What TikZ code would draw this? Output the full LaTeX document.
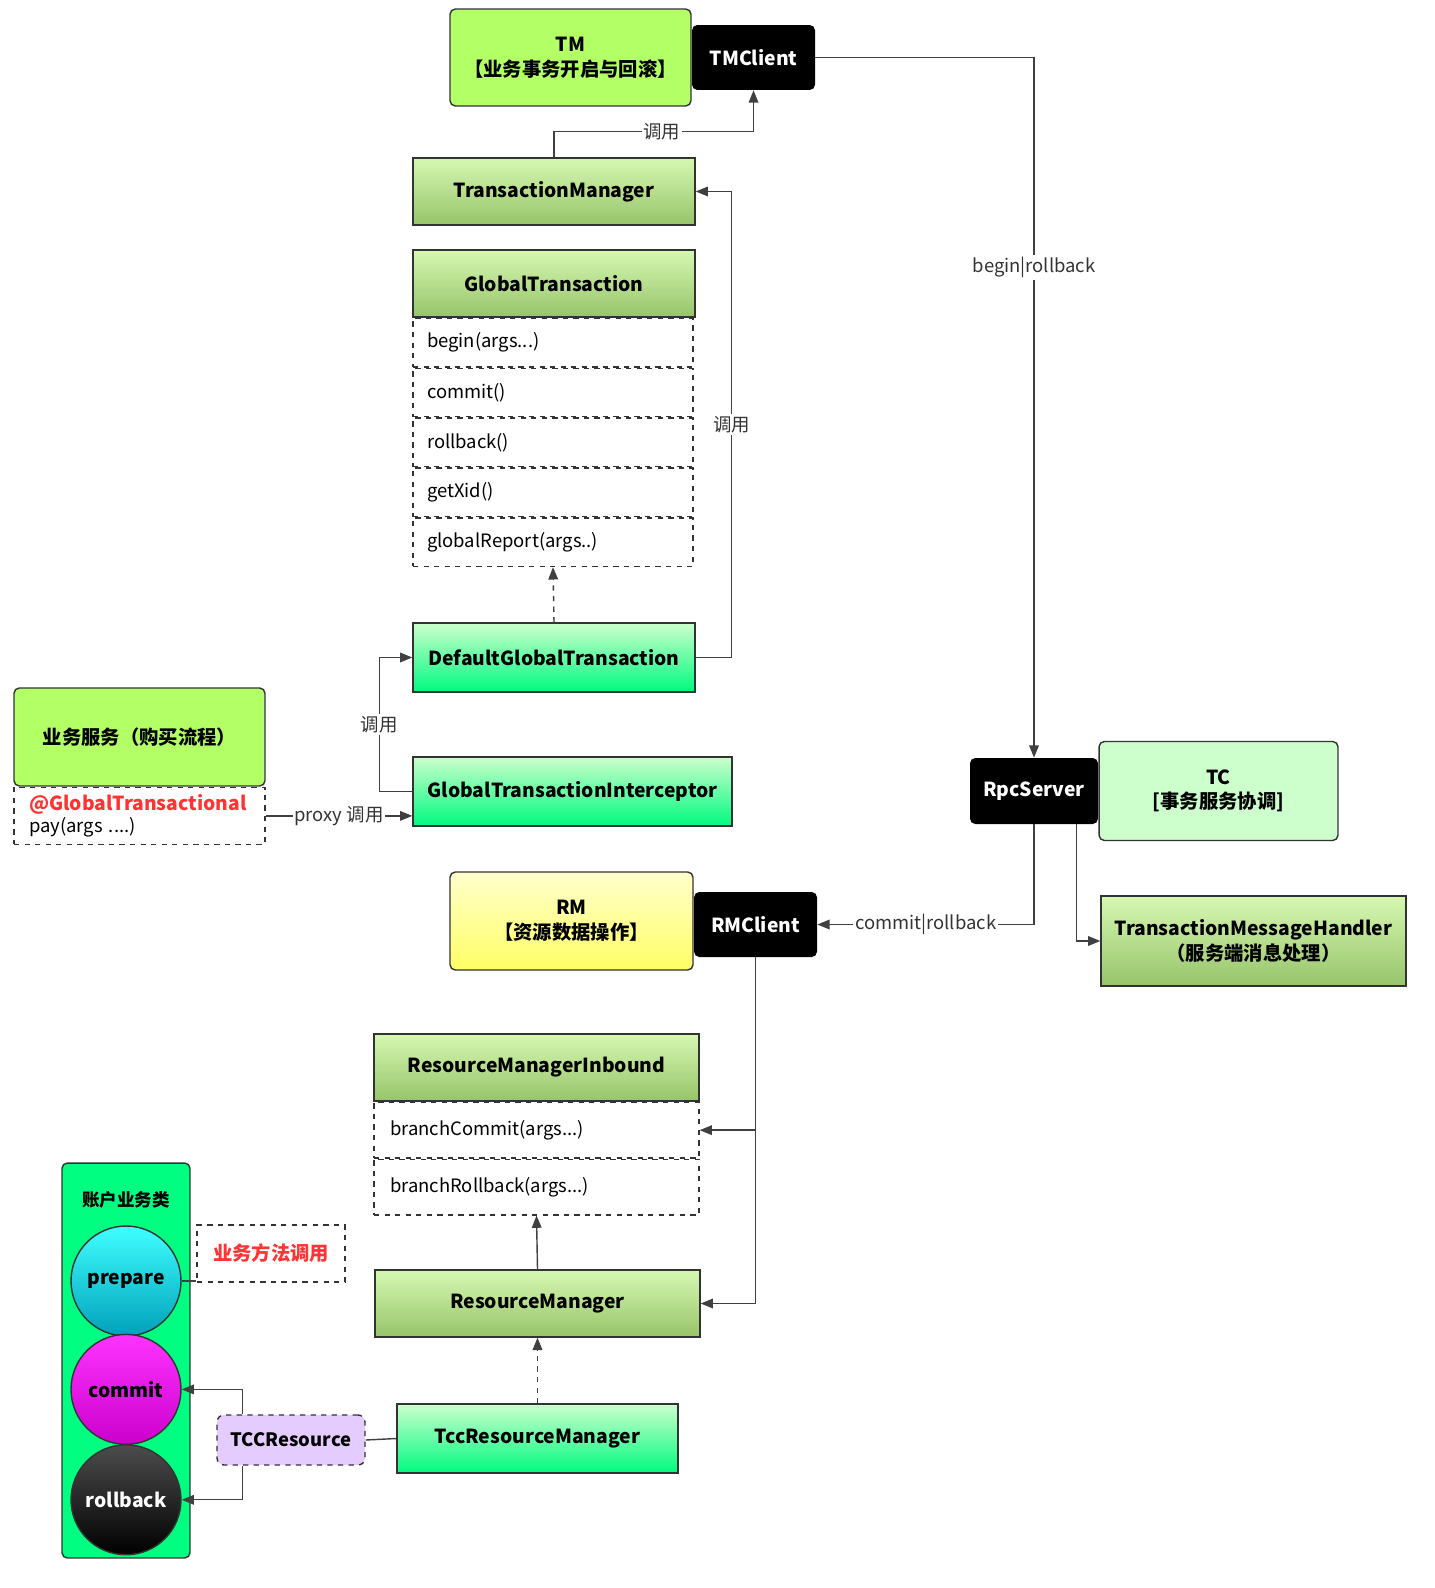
\documentclass[tikz,border=0pt]{standalone}
\usepackage{fontspec}
\setmainfont{Noto Sans CJK SC}
\usetikzlibrary{arrows.meta,positioning}
\definecolor{limefill}{HTML}{B3FF66}
\definecolor{tcfill}{HTML}{CCFFCC}
\definecolor{olivetop}{HTML}{D6F8B2}
\definecolor{olivebot}{HTML}{97C46A}
\definecolor{freshtop}{HTML}{CCFFCC}
\definecolor{freshbot}{HTML}{00FA80}
\definecolor{yellowtop}{HTML}{FFFFCC}
\definecolor{yellowbot}{HTML}{FFFF66}
\definecolor{tccfill}{HTML}{E5CCFF}
\definecolor{accountfill}{HTML}{00FF80}
\definecolor{alertred}{HTML}{FF3333}
\definecolor{linegray}{HTML}{404040}
\tikzset{role/.style={rectangle,rounded corners=3pt,draw=black!80,fill=limefill,thick,align=center,font=\bfseries\fontsize{11}{14}\selectfont}}
\tikzset{client/.style={rectangle,rounded corners=3pt,fill=black,text=white,minimum width=2.46cm,minimum height=1.3cm,font=\bfseries\fontsize{11}{13}\selectfont}}
\tikzset{olive/.style={rectangle,draw=black!80,thick,top color=olivetop,bottom color=olivebot,minimum height=1.34cm,align=center,font=\bfseries\fontsize{11}{14}\selectfont}}
\tikzset{fresh/.style={rectangle,draw=black!80,thick,top color=freshtop,bottom color=freshbot,minimum height=1.38cm,font=\bfseries\fontsize{11}{14}\selectfont}}
\tikzset{method/.style={rectangle,draw=black!80,dashed,thick,fill=white,align=left,font=\fontsize{10.5}{13}\selectfont}}
\tikzset{phase/.style={circle,draw=black!80,thick,minimum size=2.2cm,font=\bfseries\fontsize{11}{13}\selectfont}}
\tikzset{toArrow/.style={-{Triangle[length=7pt,width=5.5pt]},thick,draw=linegray}}
\tikzset{callLabel/.style={fill=white,text=black!80,inner sep=1pt,font=\fontsize{10.5}{12}\selectfont}}

\begin{document}
\begin{tikzpicture}[x=0.02cm,y=-0.02cm]
\useasboundingbox (0,0) rectangle (1434,1588);
% TM side
\node (tm) [role, minimum width=4.82cm, minimum height=1.94cm] at (570.5,57.5) {TM\\【业务事务开启与回滚】};
\node (tmclient) [client, right=0pt of tm] {TMClient};
\node (txmanager) [olive, minimum width=5.64cm] at (554,191.5) {TransactionManager};
\node (gt) [olive, minimum width=5.64cm] at (554,283.5) {GlobalTransaction};
\begin{scope}[every node/.append style={method, text width=5.04cm, inner xsep=0.28cm, minimum height=0.97cm}]
	\node (gtbegin) [below right=0pt and 0pt of gt.south west] {begin(args...)};
	\node (gtcommit) [below=0pt of gtbegin] {commit()};
	\node (gtrollback) [below=0pt of gtcommit] {rollback()};
	\node (gtxid) [below=0pt of gtrollback] {getXid()};
	\node (gtreport) [below=0pt of gtxid] {globalReport(args..)};
\end{scope}
\node (defaultgt) [fresh, minimum width=5.64cm] at (554,657.5) {DefaultGlobalTransaction};
\node (interceptor) [fresh, minimum width=6.38cm] at (572.5,791.5) {GlobalTransactionInterceptor};
\node (service) [role, minimum width=5.02cm, minimum height=1.96cm] at (139.5,737) {业务服务（购买流程）};
\node (annot) [method, below=0pt of service, text width=4.42cm, inner xsep=0.3cm, minimum height=1.14cm, font=\fontsize{10.5}{12.5}\selectfont] {{\bfseries\fontsize{11}{13}\selectfont\color{alertred}@GlobalTransactional}\\pay(args ....)};
% TC side
\node (rpcserver) [client, minimum width=2.56cm, minimum height=1.32cm] at (1034,791) {RpcServer};
\node (tc) [role, fill=tcfill, right=0pt of rpcserver, minimum width=4.78cm, minimum height=1.98cm] {TC\\{[}事务服务协调{]}};
\node (handler) [olive, minimum width=6.1cm, minimum height=1.8cm] at (1253.5,941) {TransactionMessageHandler\\（服务端消息处理）};
% RM side
\node (rm) [role, top color=yellowtop, bottom color=yellowbot, minimum width=4.86cm, minimum height=1.96cm] at (571.5,921) {RM\\【资源数据操作】};
\node (rmclient) [client, right=0pt of rm, yshift=-0.07cm] {RMClient};
\node (inbound) [olive, minimum width=6.5cm] at (536.5,1067.5) {ResourceManagerInbound};
\begin{scope}[every node/.append style={method, text width=5.86cm, inner xsep=0.32cm, minimum height=1.11cm}]
	\node (branchcommit) [below right=0pt and 0pt of inbound.south west] {branchCommit(args...)};
	\node (branchrollback) [below=0pt of branchcommit] {branchRollback(args...)};
\end{scope}
\node (resmanager) [olive, minimum width=6.5cm] at (537.5,1303.5) {ResourceManager};
\node (tccrm) [fresh, minimum width=5.62cm] at (537.5,1438.5) {TccResourceManager};
\node (tccres) [method, rounded corners=4pt, fill=tccfill, minimum width=2.96cm, minimum height=1cm, font=\bfseries\fontsize{10.5}{13}\selectfont] at (291,1440) {TCCResource};
\node (account) [rectangle, rounded corners=3pt, draw=black!80, thick, fill=accountfill, minimum width=2.56cm, minimum height=7.9cm, label={[anchor=north, yshift=-0.45cm, font=\bfseries\fontsize{10}{12}\selectfont]north:账户业务类}] at (126,1360.5) {};
\node (prepare) [phase, top color=cyan!75, bottom color=cyan!70!black!90!blue] at (126,1281) {prepare};
\node (commit) [phase, top color=magenta!80, bottom color=magenta!80!black, below=-0.06cm of prepare] {commit};
\node (rollback) [phase, top color=black!70, bottom color=black, text=white, below=-0.02cm of commit] {rollback};
\node (bizcall) [method, minimum width=2.96cm, minimum height=1.14cm, text=alertred, font=\bfseries\fontsize{11}{13}\selectfont] at (271,1253.5) {业务方法调用};
% connectors
\draw[toArrow] (txmanager.north) -- ++(0,-26) -| node[callLabel, pos=0.27] {调用} (tmclient.south);
\draw[toArrow] (defaultgt.east) -- ++(36,0) |- node[callLabel, pos=0.25] {调用} (txmanager.east);
\draw[toArrow, dashed] (defaultgt.north) -- (gtreport.south);
\draw[toArrow] (interceptor.west) -- ++(-33,0) |- node[callLabel, pos=0.25] {调用} (defaultgt.west);
\draw[toArrow] (annot.east) -- node[callLabel] {proxy 调用} (annot.east -| interceptor.west);
\draw[toArrow] (tmclient.east) -| node[callLabel, pos=0.65] {begin|rollback} (rpcserver.north);
\draw[toArrow] (rpcserver.south) |- node[callLabel, pos=0.75] {commit|rollback} (rmclient.east);
\draw[toArrow] ([xshift=-0.44cm]rpcserver.south east) |- (handler.west);
\draw[toArrow] (rmclient.south) |- (resmanager.east);
\draw[toArrow] (rmclient.south |- branchcommit.east) -- (branchcommit.east);
\draw[toArrow] (resmanager.north) -- (branchrollback.south);
\draw[toArrow, dashed] (tccrm.north) -- (resmanager.south);
\draw[thick, linegray] (tccres.east) -- (tccrm.west);
\draw[toArrow] ([xshift=0.52cm]tccres.north west) |- (commit.east);
\draw[toArrow] ([xshift=0.52cm]tccres.south west) |- (rollback.east);
\draw[thick, linegray] (prepare.east) -- (prepare.east -| bizcall.west);
\end{tikzpicture}
\end{document}
